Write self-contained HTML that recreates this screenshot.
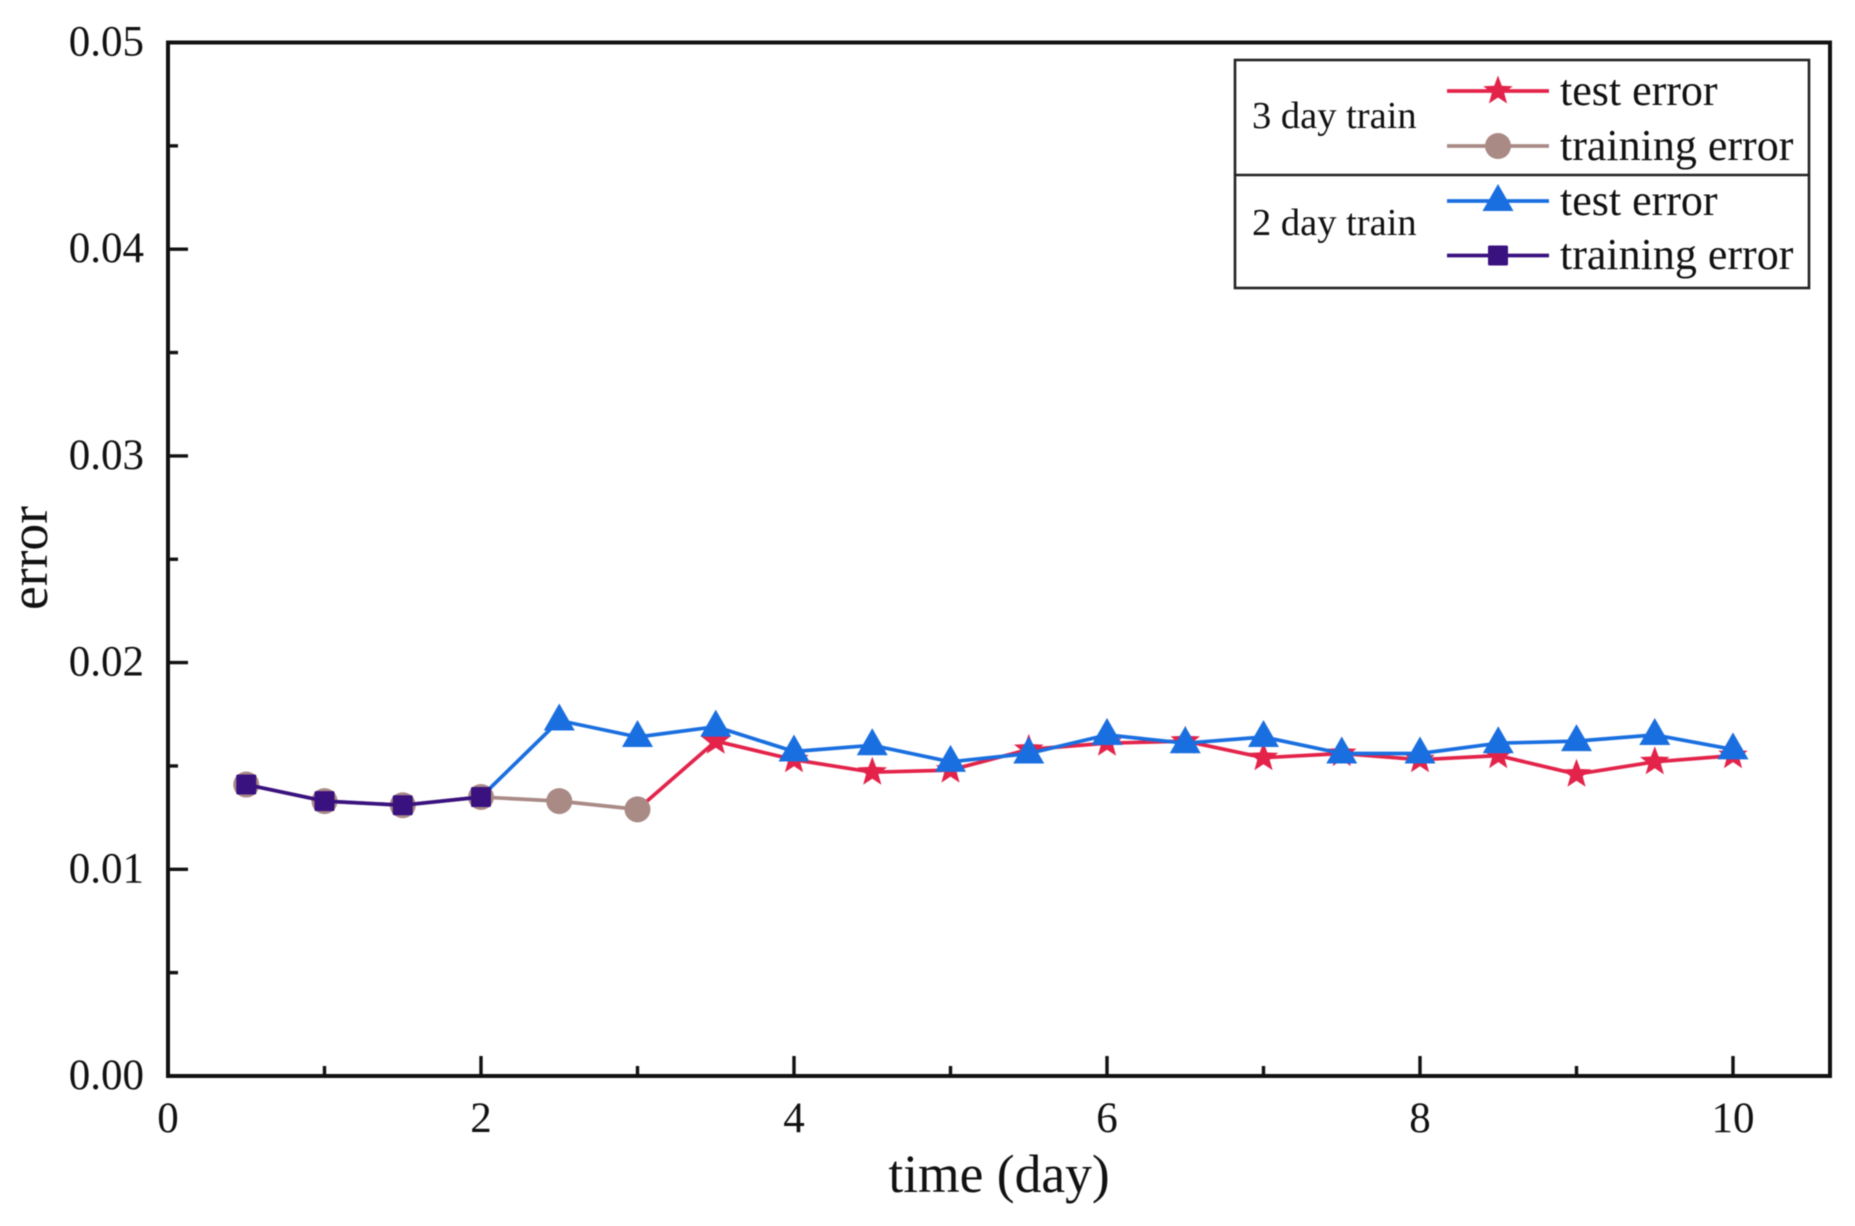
<!DOCTYPE html>
<html>
<head>
<meta charset="utf-8">
<title>Error over time</title>
<style>
html,body{margin:0;padding:0;background:#fff;width:1855px;height:1226px;overflow:hidden}
svg{display:block;filter:blur(0.5px)}
text{font-family:"Liberation Serif","Times New Roman",serif;fill:#111}
</style>
</head>
<body>
<svg id="chart" width="1855" height="1226" viewBox="0 0 1855 1226" xmlns="http://www.w3.org/2000/svg">
  <rect x="0" y="0" width="1855" height="1226" fill="#fff"/>
  <g id="ticks"></g>
  <g id="series"></g>
  <rect x="168" y="42.5" width="1662" height="1033.5" fill="none" stroke="#111" stroke-width="4"/>
  <text x="999" y="1192" font-size="53.5" text-anchor="middle">time (day)</text>
  <text transform="translate(47 558) rotate(-90)" font-size="53.5" text-anchor="middle">error</text>
  <g id="legend">
    <rect x="1235" y="60" width="574" height="228" fill="#fff" stroke="#222" stroke-width="2.6"/>
    <line x1="1235" y1="175" x2="1809" y2="175" stroke="#222" stroke-width="2.6"/>
    <text x="1252" y="128" font-size="38.5">3 day train</text>
    <text x="1252" y="235" font-size="38.5">2 day train</text>
    <text x="1560" y="105" font-size="44">test error</text>
    <text x="1560" y="160" font-size="44">training error</text>
    <text x="1560" y="215" font-size="44">test error</text>
    <text x="1560" y="269" font-size="44">training error</text>
  </g>
</svg>
<script>
// Chart data
const xMajorTicks = [0, 2, 4, 6, 8, 10];
const xMinorTicks = [1, 3, 5, 7, 9];
const yMajorTicks = [0, 0.01, 0.02, 0.03, 0.04, 0.05];
const yMinorTicks = [0.005, 0.015, 0.025, 0.035, 0.045];
const yTickLabels = ['0.00', '0.01', '0.02', '0.03', '0.04', '0.05'];

const train3Days = [0.5, 1, 1.5, 2, 2.5, 3];
const train3Values = [0.0141, 0.0133, 0.0131, 0.0135, 0.0133, 0.0129];
const train2Days = [0.5, 1, 1.5, 2];
const train2Values = [0.0141, 0.0133, 0.0131, 0.0135];
const test3Days = [3.5, 4, 4.5, 5, 5.5, 6, 6.5, 7, 7.5, 8, 8.5, 9, 9.5, 10];
const test3Values = [0.0162, 0.0153, 0.0147, 0.0148, 0.0158, 0.0161, 0.0162, 0.0154, 0.0156, 0.0153, 0.0155, 0.0146, 0.0152, 0.0155];
const test2Days = [2.5, 3, 3.5, 4, 4.5, 5, 5.5, 6, 6.5, 7, 7.5, 8, 8.5, 9, 9.5, 10];
const test2Values = [0.0172, 0.0164, 0.0169, 0.0157, 0.0160, 0.0152, 0.0156, 0.0165, 0.0161, 0.0164, 0.0156, 0.0156, 0.0161, 0.0162, 0.0165, 0.0158];

const NS = 'http://www.w3.org/2000/svg';
const RED = '#e3234a', BROWN = '#a98a85', BLUE = '#1a6fe0', PURPLE = '#3a1280';
function xScale(v) { return 168 + v * 156.5; }
function yScale(v) { return 1076 - v * 20670; }

function make(tag, attrs, parent) {
  const el = document.createElementNS(NS, tag);
  for (const k in attrs) el.setAttribute(k, attrs[k]);
  parent.appendChild(el);
  return el;
}

function starPoints(cx, cy, R) {
  const pts = [];
  for (let i = 0; i < 10; i++) {
    const r = i % 2 ? R * 0.42 : R;
    const a = -Math.PI / 2 + i * Math.PI / 5;
    pts.push((cx + r * Math.cos(a)).toFixed(1) + ',' + (cy + r * Math.sin(a)).toFixed(1));
  }
  return pts.join(' ');
}

function drawMarker(kind, cx, cy, color, parent) {
  let el;
  if (kind === 'star') {
    el = make('polygon', { points: starPoints(cx, cy, 15.5), fill: color }, parent);
  } else if (kind === 'circle') {
    el = make('circle', { cx: cx, cy: cy, r: 13, fill: color }, parent);
  } else if (kind === 'triangle') {
    el = make('polygon', { points: cx + ',' + (cy - 17) + ' ' + (cx - 15.5) + ',' + (cy + 10) + ' ' + (cx + 15.5) + ',' + (cy + 10), fill: color }, parent);
  } else {
    el = make('rect', { x: cx - 10, y: cy - 10, width: 20, height: 20, rx: 1.5, fill: color }, parent);
  }
  
  
}

function drawSeries(name, days, values, lineDays, lineValues, kind, color) {
  const parent = document.getElementById('series');
  const g = make('g', {}, parent);
  
  
  const pts = lineDays.map((d, i) => xScale(d).toFixed(1) + ',' + yScale(lineValues[i]).toFixed(1)).join(' ');
  const line = make('polyline', { points: pts, fill: 'none', stroke: color, 'stroke-width': 3.7, 'stroke-linejoin': 'round' }, g);
  
  
  days.forEach((d, i) => drawMarker(kind, xScale(d), yScale(values[i]), color, g));
}

function drawAxes() {
  const g = document.getElementById('ticks');
  xMajorTicks.forEach(v => {
    const t = make('line', { x1: xScale(v), x2: xScale(v), y1: 1076, y2: 1056, stroke: '#111', 'stroke-width': 3.4 }, g);
    
    
    const l = make('text', { x: xScale(v), y: 1132, 'font-size': 43, 'text-anchor': 'middle' }, g);
    
    
    l.textContent = String(v);
  });
  xMinorTicks.forEach(v => {
    const t = make('line', { x1: xScale(v), x2: xScale(v), y1: 1076, y2: 1066, stroke: '#111', 'stroke-width': 3.4 }, g);
    
    
  });
  yMajorTicks.forEach((v, i) => {
    const t = make('line', { x1: 168, x2: 188, y1: yScale(v), y2: yScale(v), stroke: '#111', 'stroke-width': 3.4 }, g);
    
    
    const l = make('text', { x: 144, y: yScale(v) + 13, 'font-size': 43, 'text-anchor': 'end' }, g);
    
    
    l.textContent = yTickLabels[i];
  });
  yMinorTicks.forEach(v => {
    const t = make('line', { x1: 168, x2: 178, y1: yScale(v), y2: yScale(v), stroke: '#111', 'stroke-width': 3.4 }, g);
    
    
  });
}

function drawLegendKey(name, cy, kind, color) {
  const legend = document.getElementById('legend');
  const g = make('g', {}, legend);
  
  
  const key = make('line', { x1: 1447, x2: 1549, y1: cy, y2: cy, stroke: color, 'stroke-width': 3.7 }, g);
  
  
  drawMarker(kind, 1498, cy, color, g);
}

drawAxes();
drawSeries('test-error-3-day',
  test3Days, test3Values,
  [train3Days[train3Days.length - 1]].concat(test3Days),
  [train3Values[train3Values.length - 1]].concat(test3Values),
  'star', RED);
drawSeries('training-error-3-day', train3Days, train3Values, train3Days, train3Values, 'circle', BROWN);
drawSeries('test-error-2-day',
  test2Days, test2Values,
  [train2Days[train2Days.length - 1]].concat(test2Days),
  [train2Values[train2Values.length - 1]].concat(test2Values),
  'triangle', BLUE);
drawSeries('training-error-2-day', train2Days, train2Values, train2Days, train2Values, 'square', PURPLE);

drawLegendKey('legend-key-3-day-test-error', 91, 'star', RED);
drawLegendKey('legend-key-3-day-training-error', 146, 'circle', BROWN);
drawLegendKey('legend-key-2-day-test-error', 201, 'triangle', BLUE);
drawLegendKey('legend-key-2-day-training-error', 255.5, 'square', PURPLE);
</script>
</body>
</html>
